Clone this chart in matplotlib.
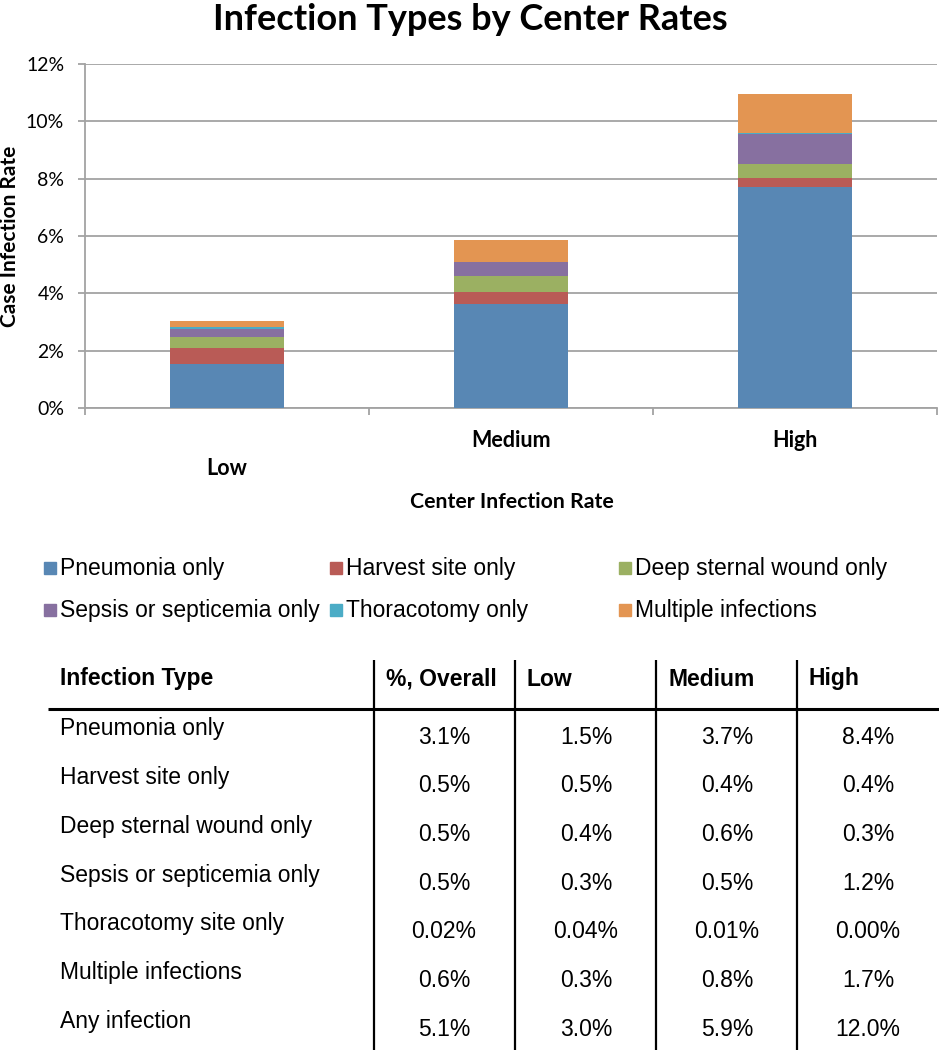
import matplotlib
matplotlib.use("Agg")
import matplotlib.pyplot as plt
from matplotlib.patches import Rectangle
from matplotlib.transforms import ScaledTranslation
import numpy as np

# ---------------- data ----------------
categories = ["Low", "Medium", "High"]
series_names = ["Pneumonia only", "Harvest site only", "Deep sternal wound only",
                "Sepsis or septicemia only", "Thoracotomy only", "Multiple infections"]
pneumonia = [1.55, 3.63, 7.71]
harvest = [0.54, 0.42, 0.32]
deep_sternal = [0.38, 0.55, 0.47]
sepsis = [0.30, 0.50, 1.05]
thoracotomy = [0.04, 0.01, 0.04]
multiple = [0.21, 0.74, 1.38]
series_values = [pneumonia, harvest, deep_sternal, sepsis, thoracotomy, multiple]
colors = ["#5887B4", "#B95B56", "#9BB062", "#8770A0", "#4BACC6", "#E39552"]
y_ticks = [0, 2, 4, 6, 8, 10, 12]

table_header = ["Infection Type", "%, Overall", "Low", "Medium", "High"]
table_rows = ["Pneumonia only", "Harvest site only", "Deep sternal wound only",
              "Sepsis or septicemia only", "Thoracotomy site only",
              "Multiple infections", "Any infection"]
col_overall = ["3.1%", "0.5%", "0.5%", "0.5%", "0.02%", "0.6%", "5.1%"]
col_low = ["1.5%", "0.5%", "0.4%", "0.3%", "0.04%", "0.3%", "3.0%"]
col_medium = ["3.7%", "0.4%", "0.6%", "0.5%", "0.01%", "0.8%", "5.9%"]
col_high = ["8.4%", "0.4%", "0.3%", "1.2%", "0.00%", "1.7%", "12.0%"]

# ---------------- figure ----------------
W, H = 939, 1050
fig = plt.figure(figsize=(W / 100, H / 100), dpi=100)
fig.patch.set_facecolor("white")

cal = "Lato"
grid_c = "#A3A3A3"

ax = fig.add_axes([85 / W, 1 - 408 / H, 852 / W, 344 / H])
x = np.arange(len(categories))
bottom = np.zeros(len(categories))
for name, vals, c in zip(series_names, series_values, colors):
    ax.bar(x, vals, width=0.4, bottom=bottom, color=c, label=name, zorder=3,
           edgecolor="none")
    bottom += np.array(vals)

ax.set_xlim(-0.5, 2.5)
ax.set_ylim(0, 12)
ax.set_yticks(y_ticks)
ax.set_yticklabels([f"{t}%" for t in y_ticks], fontfamily=cal, fontsize=14)
ax.yaxis.grid(True, color=grid_c, linewidth=1.3, zorder=0)
ax.tick_params(axis="y", length=5, width=1.3, color=grid_c, pad=10)
ax.set_xticks(x)
ax.set_xticklabels(categories, fontfamily=cal, fontsize=15.5, fontweight="bold")
ax.set_xticks([-0.5, 0.5, 1.5, 2.5], minor=True)
ax.tick_params(axis="x", which="major", length=0, pad=15.5)
ax.tick_params(axis="x", which="minor", length=5, width=1.3, color=grid_c)
for lab in ax.get_xticklabels():
    if lab.get_text() == "Low":
        lab.set_transform(lab.get_transform() + ScaledTranslation(0, -0.28, fig.dpi_scale_trans))
for s in ["top", "right"]:
    ax.spines[s].set_visible(False)
for s in ["left", "bottom"]:
    ax.spines[s].set_color(grid_c)
    ax.spines[s].set_linewidth(1.3)

fig.text(470 / W, 1 - 19 / H, "Infection Types by Center Rates", ha="center", va="center",
         fontfamily=cal, fontweight="bold", fontsize=26)
fig.text(10 / W, 1 - 236 / H, "Case Infection Rate", ha="center", va="center",
         rotation=90, fontfamily=cal, fontweight="bold", fontsize=15)
fig.text(512 / W, 1 - 502 / H, "Center Infection Rate", ha="center", va="center",
         fontfamily=cal, fontweight="bold", fontsize=15.3)

# overlay in pixel coordinates for legend and table
ov = fig.add_axes([0, 0, 1, 1])
ov.set_xlim(0, W)
ov.set_ylim(H, 0)
ov.axis("off")
ov.patch.set_alpha(0)

arial = "Liberation Sans"
fs = 16.5
leg_x = [44, 330, 619]
leg_y = [568, 610]
for i, (name, c) in enumerate(zip(series_names, colors)):
    r, col = divmod(i, 3)
    ov.add_patch(Rectangle((leg_x[col], leg_y[r] - 6), 12, 12, color=c))
    ov.text(leg_x[col] + 16, leg_y[r], name, ha="left", va="center",
            fontfamily=arial, fontsize=fs)

# table
ov.plot([48, 939], [709, 709], color="black", linewidth=2.2, solid_capstyle="butt")
for vx in [374, 515, 656, 797]:
    ov.plot([vx, vx], [660, 1050], color="black", linewidth=1.6, solid_capstyle="butt")

hdr_x = [60, 386, 527, 668, 809]
for hx, h in zip(hdr_x, table_header):
    ov.text(hx, 679, h, ha="left", va="center", fontfamily=arial, fontsize=fs,
            fontweight="bold")
row_gap = 48.7
col_cx = [444, 586, 727, 868]
for i, lab in enumerate(table_rows):
    ly = 729 + i * row_gap
    ov.text(60, ly, lab, ha="left", va="center", fontfamily=arial, fontsize=fs)
    for cx, colv in zip(col_cx, [col_overall, col_low, col_medium, col_high]):
        ov.text(cx, ly + 8, colv[i], ha="center", va="center", fontfamily=arial,
                fontsize=fs)

fig.savefig("out.png", dpi=100, facecolor="white")
